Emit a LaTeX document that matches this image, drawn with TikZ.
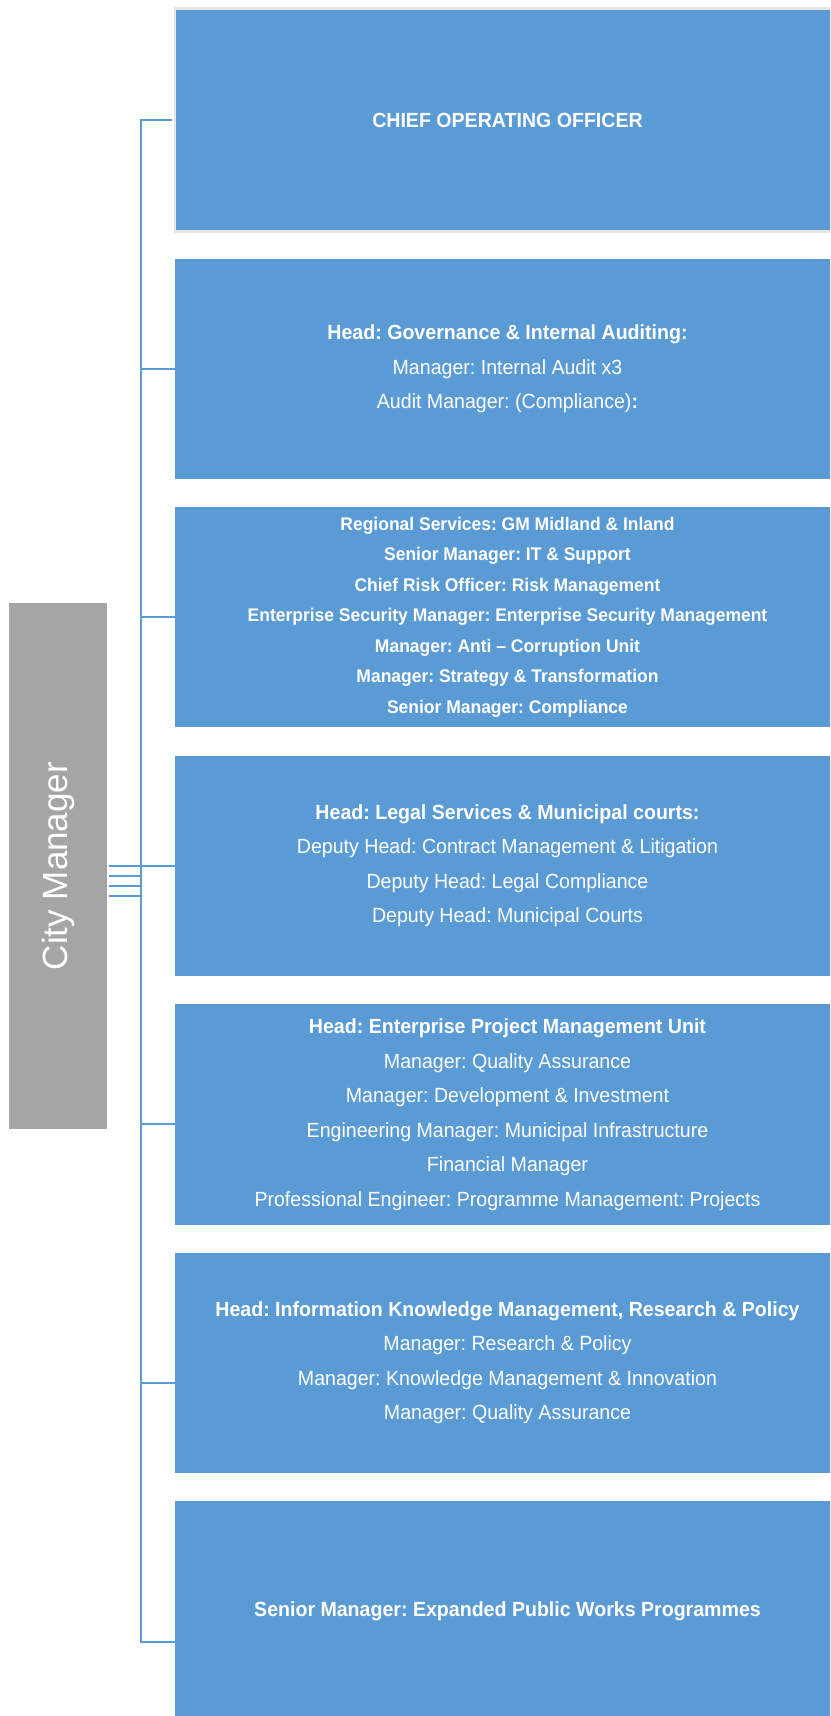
\documentclass[tikz,border=0pt]{standalone}
\usepackage{fontspec}
\setmainfont{Liberation Sans}[FakeStretch=0.955]
\newfontfamily\cmfont{Liberation Sans}
\definecolor{boxblue}{HTML}{5B9BD5}
\definecolor{cmgrey}{HTML}{A5A5A5}
\definecolor{rimgrey}{HTML}{E6E6E6}
\frenchspacing
\begin{document}
\begin{tikzpicture}[x=1pt,y=-1pt,
  unitbox/.style={fill=boxblue, draw=none, minimum width=665pt, minimum height=220.5pt,
    text=white, align=center, inner sep=0pt, font=\frenchspacing\fontsize{20.5}{34.5}\selectfont},
  smallbox/.style={unitbox, font=\frenchspacing\fontsize{18.3}{30.5}\selectfont\bfseries},
  cmbox/.style={fill=cmgrey, draw=none, minimum width=526pt, minimum height=98pt,
    text=white, inner sep=0pt, rotate=90, font=\cmfont\fontsize{35}{40}\selectfont},
  link/.style={draw=boxblue, line width=2.5pt}]
\useasboundingbox (0,0) rectangle (830,1716);
\clip (0,0) rectangle (830,1716);

\node[cmbox] (cm) at (58,866) {City Manager};

\node[unitbox, draw=rimgrey, line width=2.7pt, minimum height=222.7pt, font=\frenchspacing\fontsize{20.5}{34.5}\selectfont\bfseries] (b1) at (507.5,120) {CHIEF OPERATING OFFICER};

\node[unitbox] (b2) at (507.5,368.8) {\textbf{Head: Governance \& Internal Auditing:}\\
Manager: Internal Audit x3\\
Audit Manager: (Compliance)\textbf{:}};

\node[smallbox] (b3) at (507.5,616.9) {Regional Services: GM Midland \& Inland\\
Senior Manager: IT \& Support\\
Chief Risk Officer: Risk Management\\
Enterprise Security Manager: Enterprise Security Management\\
Manager: Anti -- Corruption Unit\\
Manager: Strategy \& Transformation\\
Senior Manager: Compliance};

\node[unitbox] (b4) at (507.5,865.9) {\textbf{Head: Legal Services \& Municipal courts:}\\
Deputy Head: Contract Management \& Litigation\\
Deputy Head: Legal Compliance\\
Deputy Head: Municipal Courts};

\node[unitbox] (b5) at (507.5,1114.7) {\textbf{Head: Enterprise Project Management Unit}\\
Manager: Quality Assurance\\
Manager: Development \& Investment\\
Engineering Manager: Municipal Infrastructure\\
Financial Manager\\
Professional Engineer: Programme Management: Projects};

\node[unitbox] (b6) at (507.5,1362.8) {\textbf{Head: Information Knowledge Management, Research \& Policy}\\
Manager: Research \& Policy\\
Manager: Knowledge Management \& Innovation\\
Manager: Quality Assurance};

\node[unitbox, font=\frenchspacing\fontsize{20.5}{34.5}\selectfont\bfseries] (b7) at (507.5,1611.5) {Senior Manager: Expanded Public Works Programmes};

% spine
\draw[link] ([xshift=-1.5pt]b1.west) -- ++(-31,0) coordinate (sTop) |- ([yshift=-30.5pt]b7.west);
\draw[link] (b2.west) -- (b2.west -| sTop);
\draw[link] (b3.west) -- (b3.west -| sTop);
\draw[link] (b4.west) -- (b4.west -| sTop);
\draw[link] ([yshift=-9.4pt]b5.west) -- ([yshift=-9.4pt]b5.west -| sTop);
\draw[link] ([yshift=-20.2pt]b6.west) -- ([yshift=-20.2pt]b6.west -| sTop);

% short lines from City Manager
\foreach \k in {0,1,2,3}{
  \draw[link] ([xshift=2pt,yshift=-10*\k pt]cm.south) -- ([yshift=-10*\k pt]cm.south -| sTop);
}
\end{tikzpicture}
\end{document}
